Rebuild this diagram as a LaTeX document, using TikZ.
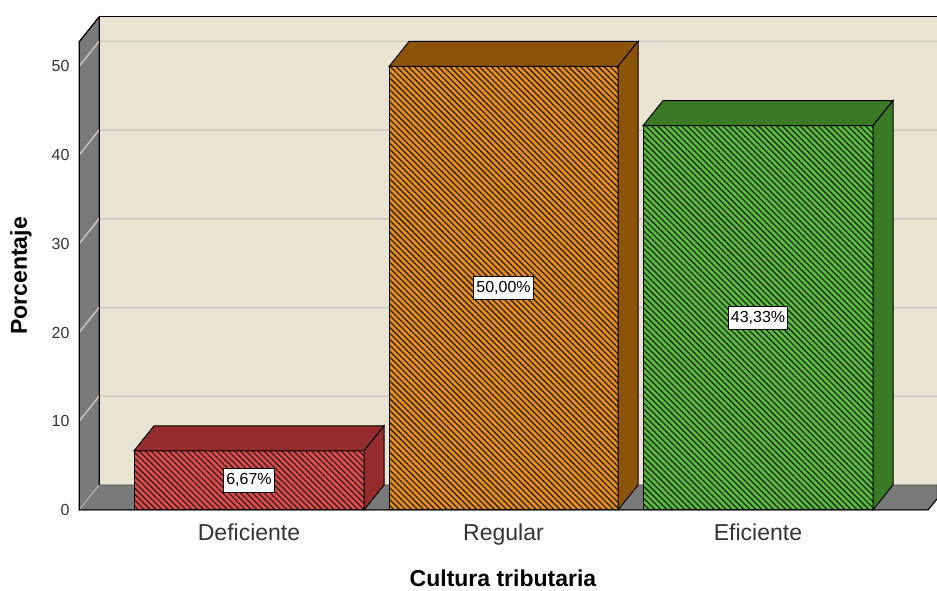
\documentclass[tikz,border=0pt]{standalone}
\usepackage{fontspec}
\setmainfont{Liberation Sans}
\usetikzlibrary{patterns.meta}

\definecolor{wallbeige}{HTML}{E9E4D1}
\definecolor{wallgray}{HTML}{7A7A7A}
\definecolor{gridgray}{HTML}{C9C7C0}
\definecolor{redface}{HTML}{E84848}
\definecolor{redside}{HTML}{952D2F}
\definecolor{orangeface}{HTML}{EC8C1A}
\definecolor{orangeside}{HTML}{8B5408}
\definecolor{greenface}{HTML}{56BE3A}
\definecolor{greenside}{HTML}{3A7A24}

\begin{document}
\begin{tikzpicture}[x=1pt,y=1pt,
		edge/.style={draw=black,line width=1pt},
		grid/.style={draw=gridgray,line width=1.4pt},
		tick/.style={anchor=east,text=black!80,font=\fontsize{16}{18}\selectfont},
		cat/.style={anchor=base,text=black!80,font=\fontsize{23}{26}\selectfont},
		axtitle/.style={font=\bfseries\fontsize{23}{26}\selectfont},
		pct/.style={draw=black,fill=white,line width=0.8pt,inner xsep=2.5pt,inner ysep=5pt,font=\fontsize{16}{18}\selectfont},
		hatch/.style={pattern={Lines[angle=-45,distance=4.2pt,line width=1.3pt]},pattern color=black!85}]
		\useasboundingbox (0,0) rectangle (937,591);
		
		% walls and floor
		\fill[wallbeige] (99,106) rectangle (937,574);
		\path[edge,fill=wallgray] (79,81) -- (99,106) -- (99,574) -- (79,549) -- cycle;
		\path[draw=black!70,line width=0.8pt,fill=wallgray] (79,81) -- (99,106) -- (937,106) -- (937,92) -- (928,81) -- cycle;
		\foreach \v in {10,20,...,50} {
		\draw[grid] (79,81+\v*8.87) -- (99,106+\v*8.87) -- (937,106+\v*8.87);
		}
		\draw[gridgray,line width=1pt] (79,81) -- (99,106);
		\draw[edge] (99,106) -- (99,574) -- (937,574);
		\draw[edge] (79,549) -- (99,574);
		\draw[edge] (79,81) -- (79,549);
		\draw[edge] (79,81) -- (928,81) -- (937,92);
		
		\foreach \v in {0,10,...,50} {
		\node[tick] (tick\v) at (73,81+\v*8.87) {\v};
		}
		
		% bars
		\foreach \xa/\xb/\v/\lbl/\fc/\dc/\name in {134/364/6.67/{6,67\%}/redface/redside/Deficiente,389/618/50/{50,00\%}/orangeface/orangeside/Regular,643/873/43.33/{43,33\%}/greenface/greenside/Eficiente} {
		\pgfmathsetmacro\yt{81+\v*8.87}
		\fill[\fc] (\xa,81) rectangle (\xb,\yt);
		\path[hatch] (\xa,81) rectangle (\xb,\yt);
		\draw[edge] (\xa,81) rectangle (\xb,\yt);
		\path[edge,fill=\dc] (\xa,\yt) -- (\xa+20,\yt+25) -- (\xb+20,\yt+25) -- (\xb,\yt) -- cycle;
		\path[edge,fill=\dc] (\xb,81) -- (\xb,\yt) -- (\xb+20,\yt+25) -- (\xb+20,106) -- cycle;
		\node[pct] (pct\name) at ({(\xa+\xb)/2},{81+\v*8.87/2}) {\lbl};
		\node[cat] (cat\name) at ({(\xa+\xb)/2},50) {\name};
		}
		
		\node[axtitle,rotate=90] (ytitle) at (21,315) {Porcentaje};
		\node[axtitle,anchor=base,inner sep=0pt] (xtitle) at (503,4) {Cultura tributaria};
	\end{tikzpicture}
\end{document}
